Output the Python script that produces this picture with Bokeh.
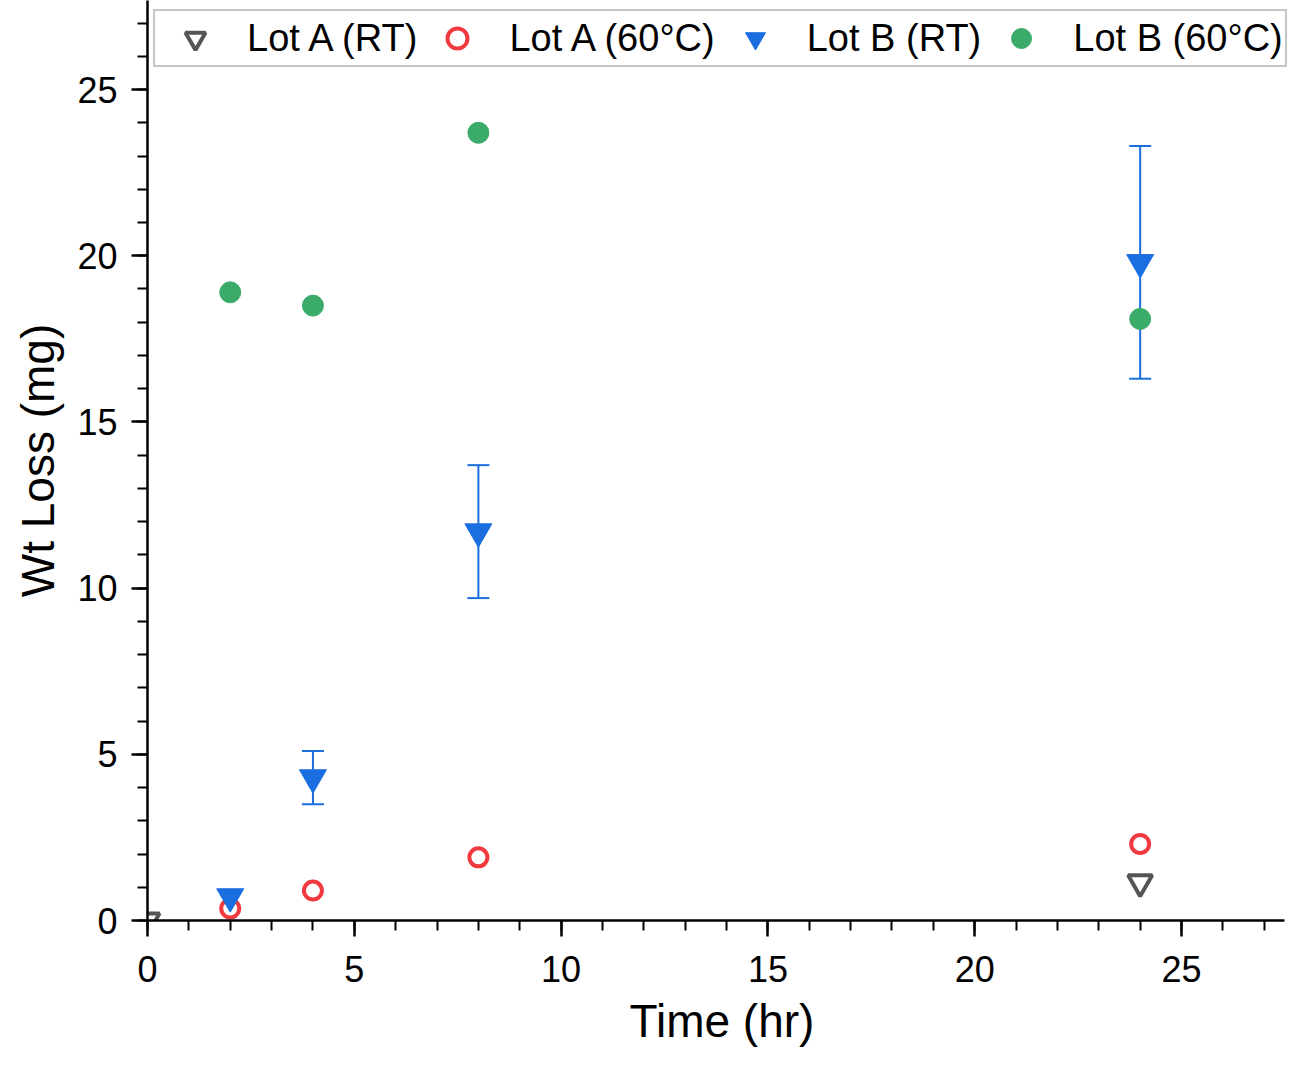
from bokeh.plotting import figure
from bokeh.models import Range1d, Whisker, ColumnDataSource, TeeHead, SingleIntervalTicker
from bokeh.embed import file_html
from bokeh.resources import INLINE

# ---- data ----
lotA_rt_t = [0, 24]
lotA_rt_w = [0.0, 1.15]
lotA_60_t = [2, 4, 8, 24]
lotA_60_w = [0.36, 0.9, 1.9, 2.3]
lotB_rt_t = [2, 4, 8, 24]
lotB_rt_w = [0.72, 4.3, 11.7, 19.8]
lotB_rt_err = [0.0, 0.8, 2.0, 3.5]
lotB_60_t = [2, 4, 8, 24]
lotB_60_w = [18.9, 18.5, 23.7, 18.1]

FONT = "Liberation Sans"

p = figure(width=1296, height=1049, output_backend="svg", toolbar_location=None,
           x_range=Range1d(0, 27.78), y_range=Range1d(0, 27.68),
           min_border_left=147, min_border_right=0, min_border_top=0, min_border_bottom=129)
p.outline_line_color = None
p.grid.visible = False
p.background_fill_color = "white"
p.border_fill_color = "white"

for ax in (p.xaxis[0], p.yaxis[0]):
    ax.ticker = SingleIntervalTicker(interval=5, num_minor_ticks=5)
    ax.axis_line_width = 2.5
    ax.axis_line_color = "black"
    ax.major_tick_line_width = 2.5
    ax.minor_tick_line_width = 2
    ax.major_tick_in = 0
    ax.major_tick_out = 16
    ax.minor_tick_in = 0
    ax.minor_tick_out = 10
    ax.major_label_text_font = FONT
    ax.major_label_text_font_size = "36px"
    ax.major_label_text_color = "black"
    ax.axis_label_text_font = FONT
    ax.axis_label_text_font_size = "46px"
    ax.axis_label_text_font_style = "normal"
    ax.axis_label_text_color = "black"

p.xaxis.bounds = (0, 27.5)
p.yaxis.bounds = (0, 27.68)
p.xaxis.axis_label = "Time (hr)"
p.yaxis.axis_label = "Wt Loss (mg)"
p.xaxis.major_label_standoff = 19
p.yaxis.major_label_standoff = 14
p.xaxis.axis_label_standoff = 10
p.yaxis.axis_label_standoff = 10

p.scatter(lotA_rt_t, lotA_rt_w, marker="inverted_triangle", size=24,
          fill_color=None, line_color="#555555", line_width=4, legend_label="Lot A (RT)")
p.scatter(lotA_60_t, lotA_60_w, marker="circle", size=18,
          fill_color=None, line_color="#f03a3f", line_width=4, legend_label="Lot A (60°C)")
p.scatter(lotB_rt_t, lotB_rt_w, marker="inverted_triangle", size=27,
          fill_color="#1a6ee0", line_color="#1a6ee0", line_width=1, legend_label="Lot B (RT)")
p.scatter(lotB_60_t, lotB_60_w, marker="circle", size=21,
          fill_color="#3aab68", line_color="#3aab68", line_width=1, legend_label="Lot B (60°C)")

lo = [w - e for w, e in zip(lotB_rt_w, lotB_rt_err)]
hi = [w + e for w, e in zip(lotB_rt_w, lotB_rt_err)]
src = ColumnDataSource(data=dict(t=lotB_rt_t[1:], lo=lo[1:], hi=hi[1:]))
wh = Whisker(base="t", lower="lo", upper="hi", source=src, dimension="height",
             line_color="#1a6ee0", line_width=2,
             upper_head=TeeHead(size=22, line_color="#1a6ee0", line_width=2),
             lower_head=TeeHead(size=22, line_color="#1a6ee0", line_width=2))
p.add_layout(wh)

lg = p.legend[0]
lg.orientation = "horizontal"
lg.location = (6, 853)
lg.label_text_font = FONT
lg.label_text_font_size = "38px"
lg.label_text_color = "black"
lg.glyph_width = 76
lg.glyph_height = 50
lg.label_height = 50
lg.label_standoff = 14
lg.spacing = 2
lg.padding = 2
lg.margin = 0
lg.border_line_color = "#8a8a8a"
lg.border_line_width = 2
lg.background_fill_color = "white"
lg.background_fill_alpha = 1.0

open("out.html", "w").write(file_html(p, INLINE))
